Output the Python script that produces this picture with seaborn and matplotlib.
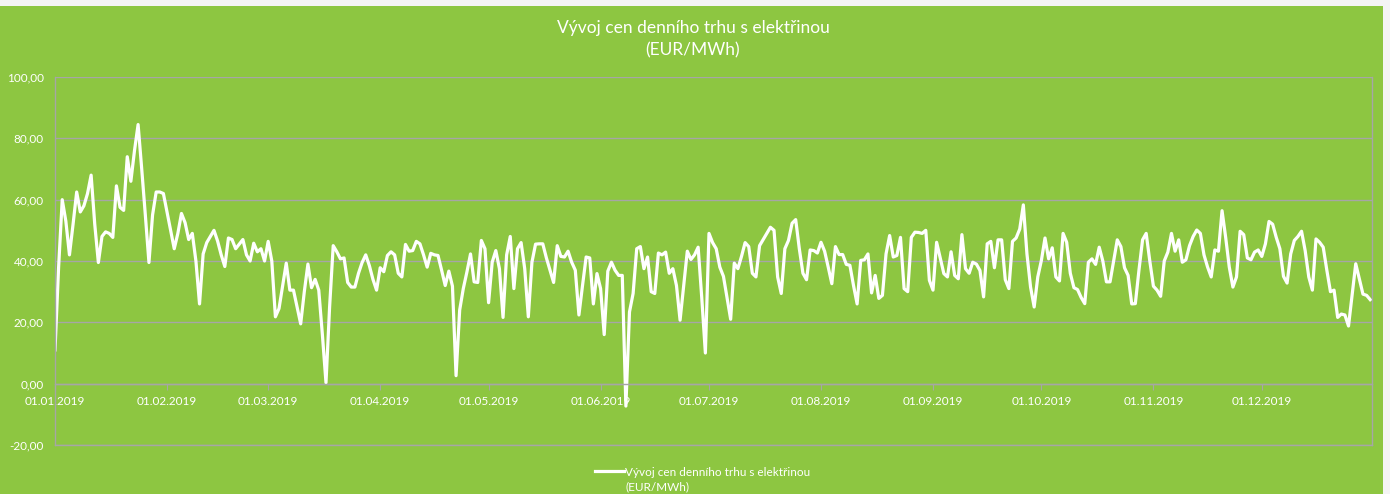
import pandas as pd
import matplotlib.pyplot as plt
import matplotlib.dates as mdates
from matplotlib.patches import Rectangle
from matplotlib.ticker import FuncFormatter
import seaborn as sns

# daily prices EUR/MWh, month by month
jan = [11, 38, 60, 53, 42, 52, 62.5, 56, 58, 62, 68, 52, 39.5, 48, 49.5, 49, 47.7, 64.5, 57.5, 56.5,
       74, 66, 76, 84.5, 70, 55, 39.5, 55, 62.5, 62.5, 62]
feb = [56, 50, 44, 49, 55.5, 52.5, 47, 49, 40, 26, 42.3, 46, 48, 50, 46.5, 42, 38.2, 47.5, 47, 44,
       45.5, 47, 42, 40, 45.8, 43, 44, 40]
mar = [46.4, 40, 21.8, 24.5, 32, 39.3, 30.5, 30.5, 25, 19.5, 30, 39, 31.3, 34, 30.5, 16, 0.3, 25, 45, 43,
       40.7, 41, 33, 31.5, 31.5, 36, 39.5, 42, 38.5, 34, 30.5]
apr = [37.8, 36.5, 41.8, 43, 42, 36, 34.8, 45.4, 43.2, 43.4, 46.4, 45.6, 42, 38, 42.5, 42, 41.8, 37, 32, 36.7,
       31.8, 2.6, 24, 31, 36.4, 42.3, 33.2, 33, 46.7, 44]
may = [26.4, 39.6, 43.4, 37.5, 21.6, 42, 48, 31, 44, 46, 37.5, 21.8, 39.6, 45.5, 45.6, 45.6, 41, 37, 33, 45,
       41.5, 41.3, 43.2, 39.6, 37, 22.4, 32, 41.3, 41, 26, 35.9]
jun = [31, 16, 36.7, 39.6, 37, 35.3, 35.3, -7.3, 23.4, 29.4, 44, 44.7, 37.5, 41.3, 30, 29.4, 42.6, 42, 42.9, 36,
       37.5, 32, 20.7, 32, 43.2, 40.5, 42, 44.5, 28, 10]
jul = [49, 46, 44, 38, 35, 28, 21, 39.3, 37.5, 41.5, 46, 44.7, 36, 34.8, 45, 47, 49, 51, 50, 34.8,
       29.4, 44, 46.7, 52.3, 53.5, 44, 36, 33.9, 43.6, 43.4, 42.6]
aug = [46.1, 43.2, 38, 32.6, 44.7, 42.1, 42.1, 38.9, 38.6, 32, 26, 40.2, 40.4, 42.3, 29.6, 35.3, 27.8, 28.8, 42.3, 48.3,
       41.3, 41.8, 47.7, 31, 30, 47.7, 49.4, 49.3, 49, 50, 33.7]
sep = [30.5, 46.1, 41, 35.9, 34.8, 43, 35.3, 34.2, 48.6, 37.5, 36, 39.6, 39, 36.9, 28.3, 45.6, 46.4, 37.8, 46.9, 46.9,
       33.9, 31, 46.4, 47.5, 50.4, 58.3, 42.3, 31.5, 25, 34.8]
oct = [40.2, 47.5, 40.7, 44.3, 34.8, 33.5, 49, 46.1, 36, 31.3, 30.7, 28.1, 26.1, 39.6, 40.7, 38.9, 44.5, 40, 33.2, 33.2,
       40, 46.9, 44.7, 37.8, 35.3, 26, 26.1, 37, 46.9, 49, 40]
nov = [31.8, 30.5, 28.5, 40, 42.9, 49, 43.2, 46.9, 39.6, 40.4, 45, 48, 50.1, 49, 42, 38, 34.8, 43.6, 43.2, 56.4,
       47.7, 38, 31.5, 34.8, 49.7, 48.6, 41, 40.4, 42.9, 43.6]
dec = [41.5, 45.6, 52.9, 52, 47.7, 44, 35, 32.8, 42.3, 46.7, 48, 49.7, 43.4, 34.8, 30.5, 47.2, 46.1, 44.5, 37, 30,
       30.5, 21.6, 22.7, 22.4, 18.8, 29, 39.1, 34.2, 29.2, 28.8, 27.4]

title = "Vývoj cen denního trhu s elektřinou\n(EUR/MWh)"
series_name = "Vývoj cen denního trhu s elektřinou"
series_unit = "(EUR/MWh)"

prices = jan + feb + mar + apr + may + jun + jul + aug + sep + oct + nov + dec
df = pd.DataFrame({"datum": pd.date_range("2019-01-01", periods=len(prices), freq="D"),
                   "cena": prices})

plt.rcParams['font.family'] = ['Lato', 'DejaVu Sans']
green = "#8DC641"
grid_col = "#A6A6A6"

fig = plt.figure(figsize=(13.9, 4.94), dpi=100, facecolor="#F4F4F4")
fig.patches.append(Rectangle((0, 0), 1383 / 1390, 488 / 494, transform=fig.transFigure,
                             facecolor=green, edgecolor="none", zorder=-10))
ax = fig.add_axes([55 / 1390, 1 - 445 / 494, (1372 - 55) / 1390, (445 - 77) / 494])
ax.set_facecolor(green)

sns.lineplot(data=df, x="datum", y="cena", ax=ax, color="white", linewidth=2.3, label=series_name)

ax.set_ylim(-20, 100)
ax.set_yticks(range(-20, 101, 20))
ax.yaxis.set_major_formatter(FuncFormatter(lambda v, p: ("%.2f" % v).replace(".", ",")))
ax.set_xlim(pd.Timestamp("2019-01-01"), pd.Timestamp("2019-12-31 12:00"))
ax.xaxis.set_major_locator(mdates.MonthLocator())
ax.xaxis.set_major_formatter(mdates.DateFormatter("%d.%m.%Y"))

ax.grid(axis="y", color=grid_col, linewidth=1)
ax.axhline(-20, color=grid_col, linewidth=1, clip_on=False, zorder=0)
ax.set_axisbelow(True)
ax.spines["top"].set_visible(False)
for s in ["left", "right", "bottom"]:
    ax.spines[s].set_color(grid_col)
    ax.spines[s].set_linewidth(1)
ax.spines["bottom"].set_position(("data", 0))

ax.tick_params(axis="y", length=0, labelsize=8.5, labelcolor="white", pad=8)
ax.tick_params(axis="x", length=4, color=grid_col, labelsize=8.5, labelcolor="white", pad=5)
ax.set_xlabel("")
ax.set_ylabel("")

fig.text(693 / 1390, 1 - 39 / 494, title, ha="center", va="center", color="white",
         fontsize=12.5, linespacing=1.45)

leg = ax.legend(loc="center", bbox_to_anchor=(703 / 1390, 1 - 472 / 494),
                bbox_transform=fig.transFigure, frameon=False, fontsize=8.5,
                handlelength=2.4, handletextpad=0.15)
for t in leg.get_texts():
    t.set_color("white")

# unit goes on a second line under the legend label, as in the original
fig.canvas.draw()
bb = leg.get_texts()[0].get_window_extent()
fig.text(bb.x0 / fig.bbox.width, 1 - 487 / 494, series_unit, ha="left", va="center",
         color="white", fontsize=8.5)

fig.savefig("out.png", dpi=100, facecolor=fig.get_facecolor())
